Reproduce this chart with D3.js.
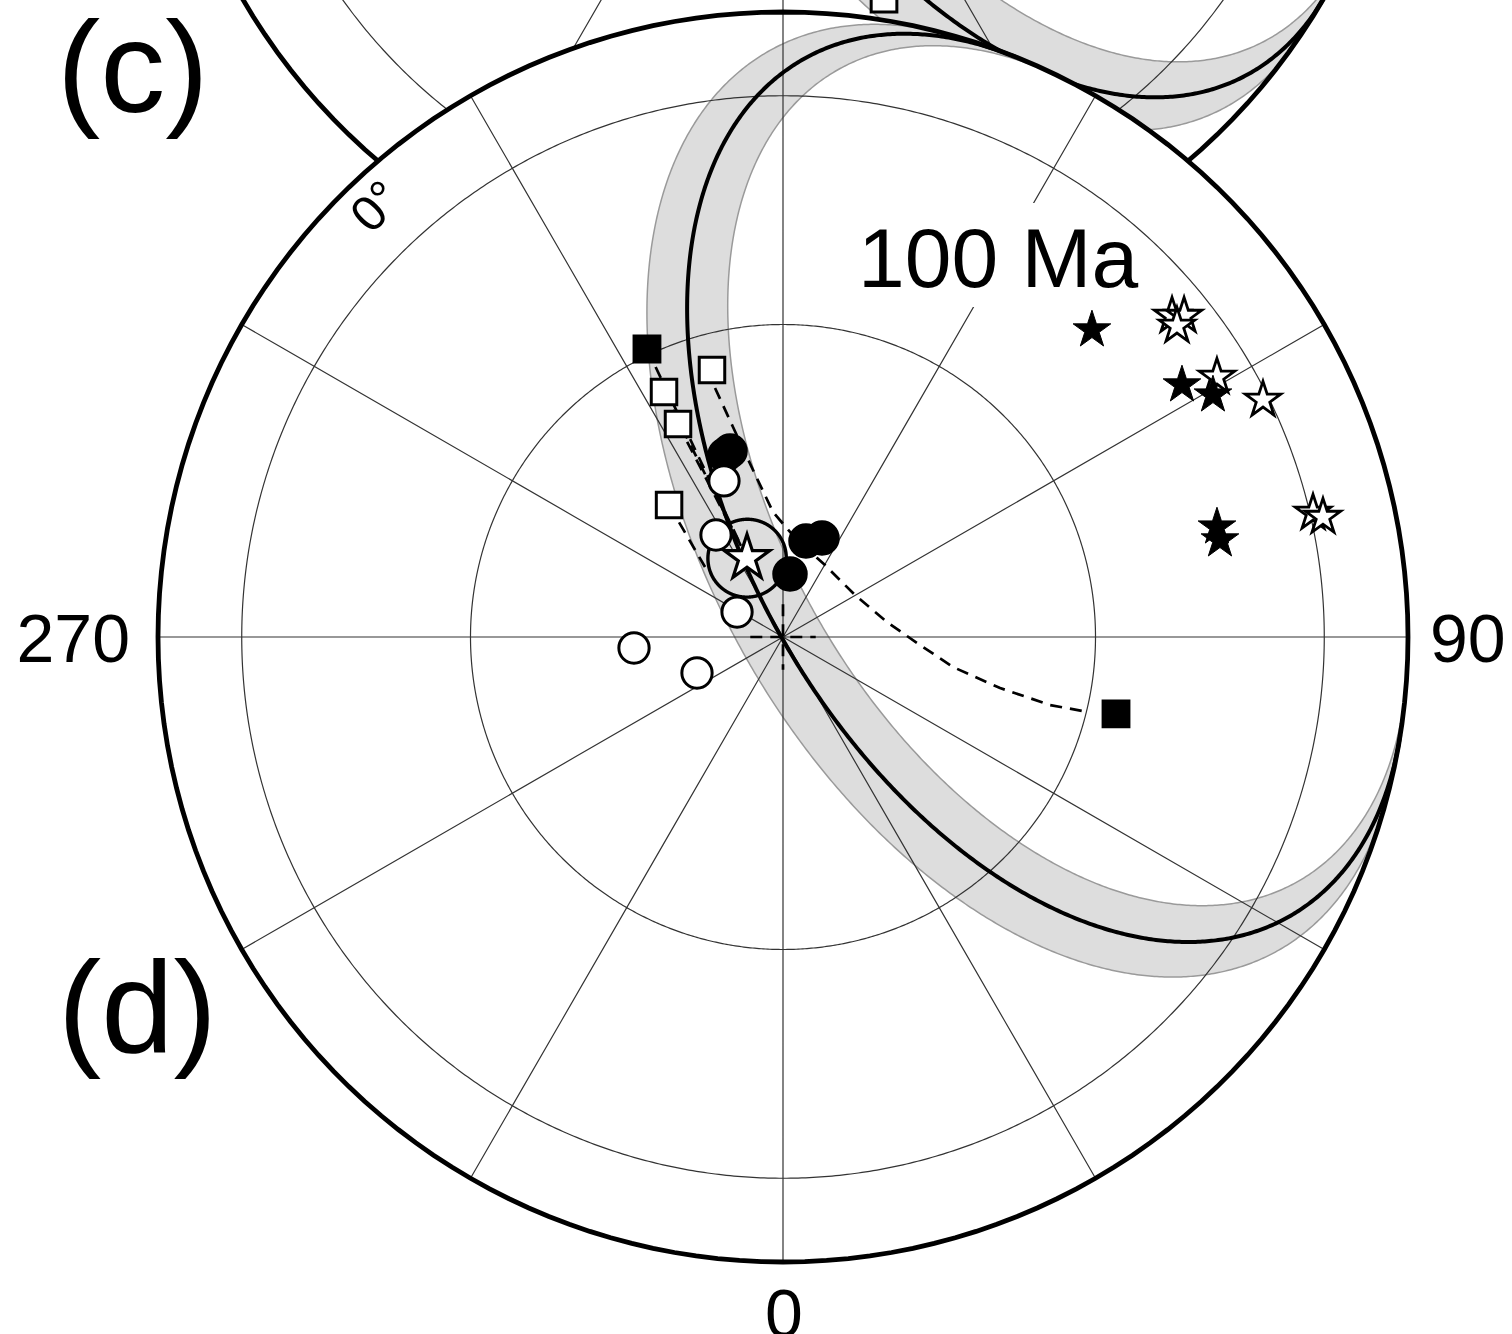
<!DOCTYPE html>
<html><head><meta charset="utf-8">
<script src="https://cdn.jsdelivr.net/npm/d3@7"></script>
<style>body{margin:0;background:#fff}svg{display:block}text{font-family:"Liberation Sans",Arial,Helvetica,sans-serif;fill:#000}</style>
</head><body>
<svg id="chart" width="1512" height="1334"></svg>
<script>
// ---------------- data (lon, lat in degrees) ----------------
const meridianLons = [0,30,60,90,120,150,180,210,240,270,300,330];
const parallelLats = [30,60];
// panel (d) small circle (Euler pole, radius, half-width of band)
const dPole = [119.53, 38.11];
const dRadius = 52.03;
const dHalfWidth = 3.75;
// panel (c) small circle
const cPole = [116.46, 34.6];
const cRadius = 62.8;
const cHalfWidth = 4.2;
const cOpenSquares = [[17.83, 58.14]];
// panel (d) symbols
const filledSquares = [[205.28,59.36],[77.0,56.85]];
const openSquares = [[194.89,63.76],[205.9,64.16],[206.24,67.67],[220.8,73.8]];
const filledCircles = [[197.68,72.20],[195.9,71.98],[166.53,80.91],[158.5,80.2],[173.66,84.18]];
const openCircles = [[200.72,74.52],[213.3,78.74],[241.5,85.2],[274.22,76.17],[292.72,81.42]];
const meanPole = [204.5, 82.02];
const meanA95 = 3.6;
const filledStars = [[134.82,45.82],[122.28,40.97],[119.37,37.87],[104.22,44.25],[102.52,44.26]];
const openStars = [[129.53,36.19],[128.67,34.72],[128.29,36.57],[120.93,35.96],[116.28,31.07],[103.17,29.43],[102.53,27.74]];
// dashed paths
const dashArc = [[195.27,65.61],[193.39,69.79],[190.18,74.25],[184.57,78.43],[171.79,80.98],[149.74,82.34],[120.26,82.34],[98.21,80.32],[87.44,77.61],[79.99,73.97],[76.77,69.1],[75.71,63.84],[76.19,59.83]];
const dashToMeanFrom = [[205.28,59.36],[205.9,64.16],[206.24,67.67]];
const dashShort = [[220.8,73.8],[228.09,80.35]];
const dashCross = [[[270,87],[90,87]],[[180,87],[0,87]]];
// labels
const edgeLonLabels = ["0","90","270"];
const edgeLons = [0,90,270];
const latLabel = "0°";
const ageLabel = "100 Ma";
const panelLabels = ["(c)","(d)"];

// ---------------- drawing ----------------
const svg = d3.select("#chart");
const R = 625, CX = 783;
function makeProj(ty){
  return d3.geoOrthographic().rotate([0,-90]).scale(R).translate([CX,ty]).clipAngle(90).precision(0.2);
}
const projC = makeProj(-315);
const projD = makeProj(637);

function ringLine(center, radius){
  const c = d3.geoCircle().center(center).radius(radius).precision(0.4)();
  return {type:"LineString", coordinates:c.coordinates[0]};
}
function drawBand(g, path, pole, radius, half){
  const outer = d3.geoCircle().center(pole).radius(radius+half).precision(0.4)();
  const inner = d3.geoCircle().center(pole).radius(radius-half).precision(0.4)();
  g.append("path").attr("d",(path(outer)||"")+(path(inner)||""))
    .attr("fill","#dddddd").attr("fill-rule","evenodd")
    .attr("stroke","#9a9a9a").attr("stroke-width",1.5);
}
function drawGrid(g, path){
  g.append("path")
    .attr("d", path({type:"MultiLineString", coordinates: meridianLons.map(l=>[[l,-5],[l,90]])}))
    .attr("fill","none").attr("stroke","#333").attr("stroke-width",1.2);
  parallelLats.forEach(lat=>{
    g.append("path").attr("d", path(ringLine([0,90], 90-lat)))
      .attr("fill","none").attr("stroke","#333").attr("stroke-width",1.2);
  });
}
function sym(g, proj, pts, type, size, fill, sw){
  g.selectAll(null).data(pts).join("path")
    .attr("transform", d=>{const p=proj(d); return `translate(${p[0]},${p[1]})`;})
    .attr("d", d3.symbol().type(type).size(size))
    .attr("fill", fill).attr("stroke","#000").attr("stroke-width", sw).attr("stroke-linejoin","miter");
}

// ---- panel (c) (partly hidden) ----
const gC = svg.append("g");
const pathC = d3.geoPath(projC);
gC.append("path").attr("d", pathC({type:"Sphere"})).attr("fill","#fff");
drawBand(gC, pathC, cPole, cRadius, cHalfWidth);
drawGrid(gC, pathC);
gC.append("path").attr("d", pathC(ringLine(cPole, cRadius))).attr("fill","none").attr("stroke","#000").attr("stroke-width",4);
sym(gC, projC, cOpenSquares, d3.symbolSquare, 660, "#fff", 3);
gC.append("path").attr("d", pathC({type:"Sphere"})).attr("fill","none").attr("stroke","#000").attr("stroke-width",4.8);

// ---- panel (d) ----
const gD = svg.append("g");
const pathD = d3.geoPath(projD);
gD.append("path").attr("d", pathD({type:"Sphere"})).attr("fill","#fff");
drawBand(gD, pathD, dPole, dRadius, dHalfWidth);
drawGrid(gD, pathD);

// age label with white backing
gD.append("rect").attr("x",850).attr("y",203).attr("width",250).attr("height",104).attr("fill","#fff");
gD.append("text").attr("x",858).attr("y",287).attr("font-size",84).text(ageLabel);

// small circle centre line
gD.append("path").attr("d", pathD(ringLine(dPole, dRadius))).attr("fill","none").attr("stroke","#000").attr("stroke-width",4);

// dashed lines
const dashStyle = s => s.attr("fill","none").attr("stroke","#000").attr("stroke-width",2.7).attr("stroke-dasharray","12,8");
gD.append("path").attr("d", pathD({type:"LineString", coordinates: dashArc})).call(dashStyle);
dashToMeanFrom.forEach(p=>{
  gD.append("path").attr("d", pathD({type:"LineString", coordinates:[p, meanPole]})).call(dashStyle);
});
gD.append("path").attr("d", pathD({type:"LineString", coordinates: dashShort})).call(dashStyle);
dashCross.forEach(l=>{
  gD.append("path").attr("d", pathD({type:"LineString", coordinates:l})).call(dashStyle);
});

// mean pole with a95
gD.append("path").attr("d", pathD(ringLine(meanPole, meanA95))).attr("fill","none").attr("stroke","#000").attr("stroke-width",3.4);

// symbols
sym(gD, projD, openSquares, d3.symbolSquare, 650, "#fff", 3);
sym(gD, projD, filledSquares, d3.symbolSquare, 720, "#000", 2);
sym(gD, projD, filledCircles, d3.symbolCircle, 880, "#000", 2);
sym(gD, projD, openCircles, d3.symbolCircle, 720, "#fff", 3);
sym(gD, projD, [meanPole], d3.symbolStar, 640, "#fff", 3.2);
sym(gD, projD, openStars, d3.symbolStar, 390, "#fff", 2.8);
sym(gD, projD, filledStars, d3.symbolStar, 440, "#000", 1);

// outline
gD.append("path").attr("d", pathD({type:"Sphere"})).attr("fill","none").attr("stroke","#000").attr("stroke-width",4.8);

// edge longitude labels
edgeLons.forEach((lon,i)=>{
  const p = projD([lon, 0]);
  const t = gD.append("text").attr("font-size",68).text(edgeLonLabels[i]);
  if (lon===0) t.attr("x",p[0]+1).attr("y",p[1]+75).attr("text-anchor","middle");
  else if (lon===90) t.attr("x",p[0]+22).attr("y",p[1]+25).attr("text-anchor","start");
  else t.attr("x",p[0]-28).attr("y",p[1]+25).attr("text-anchor","end");
});
// latitude label on boundary
{
  const p = projD([223.4, 18.5]);
  gD.append("text").attr("font-size",50).attr("text-anchor","middle").attr("dominant-baseline","central")
    .attr("transform",`translate(${p[0]},${p[1]}) rotate(-46)`).text(latLabel);
}
// panel labels
svg.append("text").attr("x",57).attr("y",112).attr("font-size",130).text(panelLabels[0]);
svg.append("text").attr("x",58).attr("y",1052).attr("font-size",130).text(panelLabels[1]);
</script>
</body></html>
